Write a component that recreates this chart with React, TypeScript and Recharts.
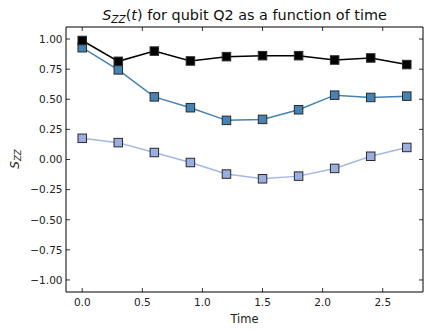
import React from "react";
import { LineChart, Line, XAxis, YAxis } from "recharts";

const times = [0, 0.3, 0.6, 0.9, 1.2, 1.5, 1.8, 2.1, 2.4, 2.7];
const blackSeries = [0.988, 0.815, 0.9, 0.818, 0.854, 0.862, 0.862, 0.826, 0.843, 0.788];
const steelSeries = [0.928, 0.744, 0.52, 0.43, 0.325, 0.333, 0.413, 0.534, 0.515, 0.526];
const lightSeries = [0.176, 0.14, 0.058, -0.025, -0.121, -0.16, -0.138, -0.074, 0.027, 0.1];
const xTicks = [0, 0.5, 1.0, 1.5, 2.0, 2.5];
const yTicks = [-1, -0.75, -0.5, -0.25, 0, 0.25, 0.5, 0.75, 1];

const data = times.map((t, i) => ({
  t,
  a: blackSeries[i],
  b: steelSeries[i],
  c: lightSeries[i],
}));

const FONT = "'DejaVu Sans', sans-serif";
const fmtNum = (v: number, d: number) => {
  const s = Math.abs(v).toFixed(d);
  return v < 0 ? "\u2212" + s : s;
};

const BottomTick = (props: any) => {
  const { x, y, payload } = props;
  return (
    <g>
      <line x1={x} y1={y} x2={x} y2={y - 4} stroke="#000" strokeWidth={0.8} />
      <text x={x} y={y + 13.5} textAnchor="middle" fontSize={10.5} fontFamily={FONT} fill="#222">
        {fmtNum(payload.value, 1)}
      </text>
    </g>
  );
};
const TopTick = (props: any) => {
  const { x, y } = props;
  return <line x1={x} y1={y} x2={x} y2={y + 4} stroke="#000" strokeWidth={0.8} />;
};
const LeftTick = (props: any) => {
  const { x, y, payload } = props;
  return (
    <g>
      <line x1={x} y1={y} x2={x + 4} y2={y} stroke="#000" strokeWidth={0.8} />
      <text x={x - 3.5} y={y + 3.8} textAnchor="end" fontSize={10.5} fontFamily={FONT} fill="#222">
        {fmtNum(payload.value, 2)}
      </text>
    </g>
  );
};
const RightTick = (props: any) => {
  const { x, y } = props;
  return <line x1={x} y1={y} x2={x - 4} y2={y} stroke="#000" strokeWidth={0.8} />;
};

const makeSquare = (fill: string) => (props: any) => {
  const { cx, cy, index } = props;
  if (cx == null || cy == null) return <g key={index} />;
  const s = 8.5;
  return (
    <rect
      key={index}
      x={cx - s / 2}
      y={cy - s / 2}
      width={s}
      height={s}
      fill={fill}
      stroke="#2a2a2a"
      strokeWidth={1}
    />
  );
};

export default function App() {
  return (
    <div style={{ position: "absolute", left: 0, top: 0, width: 430, height: 333, background: "#fff" }}>
      <svg width={430} height={333} style={{ position: "absolute", left: 0, top: 0 }}>
        <text x={244.5} y={20} textAnchor="middle" fontSize={14.4} fontFamily={FONT} fill="#111">
          <tspan fontStyle="italic">S</tspan>
          <tspan fontStyle="italic" fontSize={10.5} dy={3}>ZZ</tspan>
          <tspan dy={-3}>(</tspan>
          <tspan fontStyle="italic">t</tspan>
          <tspan>) for qubit Q2 as a function of time</tspan>
        </text>
        <text x={244.5} y={323} textAnchor="middle" fontSize={11.5} fontFamily={FONT} fill="#222">
          Time
        </text>
        <g transform="translate(18.5,159) rotate(-90)">
          <text x={0} y={0} textAnchor="middle" fontSize={12} fontFamily={FONT} fill="#222">
            <tspan fontStyle="italic">S</tspan>
            <tspan fontStyle="italic" fontSize={8.5} dy={2.5}>ZZ</tspan>
          </text>
        </g>
      </svg>
      <div style={{ position: "absolute", left: 0, top: 0 }}>
        <LineChart
          width={430}
          height={333}
          data={data}
          margin={{ top: 26, right: 6, bottom: 0, left: 0 }}
          style={{ background: "transparent" }}
        >
          <XAxis
            xAxisId="bottom"
            dataKey="t"
            type="number"
            domain={[-0.135, 2.835]}
            ticks={xTicks}
            allowDataOverflow
            orientation="bottom"
            height={41}
            tickSize={0}
            tickMargin={0}
            tickLine={false}
            axisLine={{ stroke: "#000", strokeWidth: 1 }}
            tick={<BottomTick />}
            interval={0}
          />
          <XAxis
            xAxisId="top"
            dataKey="t"
            type="number"
            domain={[-0.135, 2.835]}
            ticks={xTicks}
            allowDataOverflow
            orientation="top"
            height={1}
            tickSize={0}
            tickMargin={0}
            tickLine={false}
            axisLine={{ stroke: "#000", strokeWidth: 1 }}
            tick={<TopTick />}
            interval={0}
          />
          <YAxis
            yAxisId="left"
            type="number"
            domain={[-1.1, 1.1]}
            ticks={yTicks}
            allowDataOverflow
            orientation="left"
            width={66}
            tickSize={0}
            tickMargin={0}
            tickLine={false}
            axisLine={{ stroke: "#000", strokeWidth: 1 }}
            tick={<LeftTick />}
            interval={0}
          />
          <YAxis
            yAxisId="right"
            type="number"
            domain={[-1.1, 1.1]}
            ticks={yTicks}
            allowDataOverflow
            orientation="right"
            width={1}
            tickSize={0}
            tickMargin={0}
            tickLine={false}
            axisLine={{ stroke: "#000", strokeWidth: 1 }}
            tick={<RightTick />}
            interval={0}
          />
          <Line
            xAxisId="bottom"
            yAxisId="left"
            dataKey="c"
            stroke="#a4b8e6"
            strokeWidth={1.5}
            dot={makeSquare("#9aaee0")}
            activeDot={false}
            isAnimationActive={false}
          />
          <Line
            xAxisId="bottom"
            yAxisId="left"
            dataKey="b"
            stroke="#4682b4"
            strokeWidth={1.5}
            dot={makeSquare("#4682b4")}
            activeDot={false}
            isAnimationActive={false}
          />
          <Line
            xAxisId="bottom"
            yAxisId="left"
            dataKey="a"
            stroke="#000"
            strokeWidth={1.5}
            dot={makeSquare("#000")}
            activeDot={false}
            isAnimationActive={false}
          />
        </LineChart>
      </div>
    </div>
  );
}
